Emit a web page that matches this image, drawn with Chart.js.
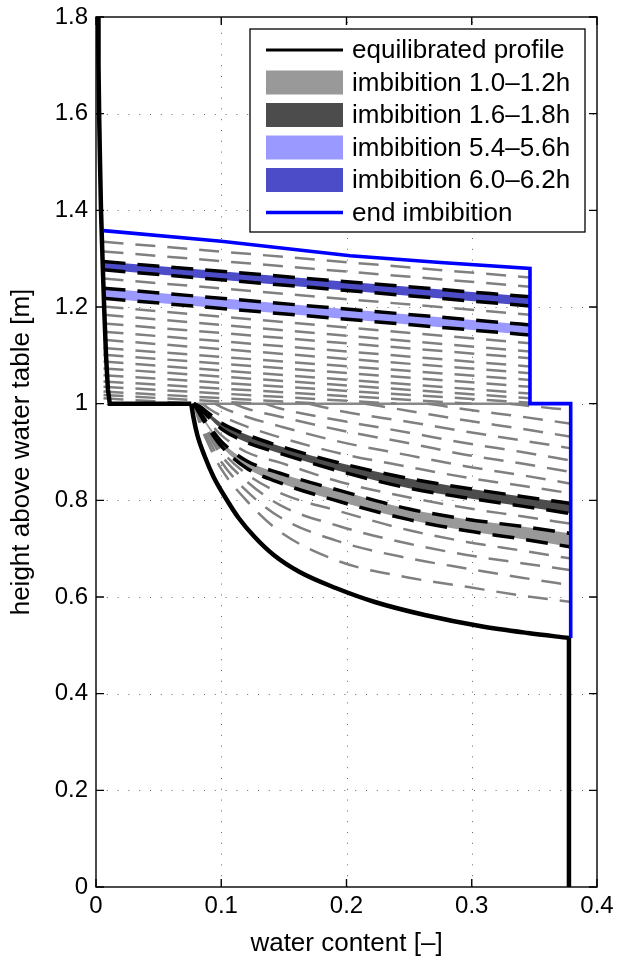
<!DOCTYPE html>
<html>
<head>
<meta charset="utf-8">
<script src="https://cdn.jsdelivr.net/npm/chart.js@4.4.1/dist/chart.umd.min.js"></script>
<style>
html,body{margin:0;padding:0;background:#fff;}
canvas{display:block;}
</style>
</head>
<body>
<canvas id="c" width="617" height="961"></canvas>
<script>
// ---------------- DATA ----------------
const xTickValues = [0, 0.1, 0.2, 0.3, 0.4];
const xTickLabels = ['0', '0.1', '0.2', '0.3', '0.4'];
const yTickValues = [0, 0.2, 0.4, 0.6, 0.8, 1.0, 1.2, 1.4, 1.6, 1.8];
const yTickLabels = ['0', '0.2', '0.4', '0.6', '0.8', '1', '1.2', '1.4', '1.6', '1.8'];
const xTitle = 'water content [–]';
const yTitle = 'height above water table [m]';
const legendLabels = ['equilibrated profile', 'imbibition 1.0–1.2h', 'imbibition 1.6–1.8h',
                      'imbibition 5.4–5.6h', 'imbibition 6.0–6.2h', 'end imbibition'];

// equilibrated profile (t = 0): upper layer + interface, lower-layer curve, bottom
const eqUpperX = [0.0016, 0.002, 0.0025, 0.0032, 0.004, 0.0052, 0.0065, 0.008, 0.0095, 0.011, 0.076];
const eqUpperY = [1.8, 1.7, 1.6, 1.5, 1.4, 1.3, 1.2, 1.1, 1.03, 1.0, 1.0];
const eqCurveX = [0.076, 0.0779, 0.0811, 0.0867, 0.0939, 0.1035, 0.1139, 0.1267, 0.1419, 0.1626, 0.1914, 0.2226, 0.2625, 0.3064, 0.3448, 0.3776];
const eqCurveY = [1.0, 0.9703, 0.9331, 0.8917, 0.8483, 0.8048, 0.7634, 0.7241, 0.6869, 0.6517, 0.6186, 0.5897, 0.5628, 0.5400, 0.5255, 0.5152];
const eqBottomX = [0.3776, 0.3776];
const eqBottomY = [0.5152, 0];

// end of imbibition
const endX = [0.006, 0.1, 0.203, 0.275, 0.3465, 0.3465, 0.379, 0.379];
const endY = [1.358, 1.336, 1.306, 1.292, 1.280, 1.0, 1.0, 0.5152];

// lower-layer profiles (every 0.2 h)
const lowerTimes = [0.2, 0.4, 0.6, 0.8, 1.0, 1.2, 1.4, 1.6, 1.8, 2.0, 2.2, 2.4, 2.6, 2.8, 3.0, 3.2, 3.4];
const lowerStartX = [0.078, 0.078, 0.078, 0.078, 0.078, 0.078, 0.078, 0.078, 0.078, 0.085, 0.095, 0.11, 0.135, 0.17, 0.215, 0.265, 0.33];
const lowerGridX = [0.078, 0.083, 0.09, 0.10, 0.12, 0.147, 0.195, 0.25, 0.296, 0.34, 0.378];
const lowerH = [
  [null, 0.958, 0.915, 0.865, 0.800, 0.735, 0.673, 0.640, 0.621, 0.603, 0.590],
  [null, 0.965, 0.925, 0.880, 0.820, 0.765, 0.714, 0.680, 0.659, 0.640, 0.625],
  [null, 0.970, 0.935, 0.893, 0.840, 0.790, 0.746, 0.710, 0.687, 0.670, 0.656],
  [null, 0.975, 0.942, 0.903, 0.855, 0.815, 0.777, 0.738, 0.714, 0.696, 0.680],
  [null, 0.978, 0.948, 0.912, 0.867, 0.836, 0.797, 0.760, 0.737, 0.720, 0.704],
  [null, 0.982, 0.955, 0.922, 0.882, 0.856, 0.820, 0.782, 0.761, 0.746, 0.732],
  [null, 0.986, 0.963, 0.935, 0.900, 0.878, 0.838, 0.806, 0.784, 0.767, 0.752],
  [null, 0.990, 0.972, 0.948, 0.920, 0.897, 0.860, 0.825, 0.805, 0.788, 0.773],
  [null, 0.994, 0.980, 0.960, 0.936, 0.912, 0.877, 0.845, 0.825, 0.808, 0.794],
  [null, null, 0.990, 0.975, 0.953, 0.930, 0.897, 0.869, 0.847, 0.830, 0.815],
  [null, null, null, 0.993, 0.973, 0.953, 0.921, 0.893, 0.870, 0.852, 0.835],
  [null, null, null, null, 0.990, 0.973, 0.945, 0.918, 0.894, 0.876, 0.859],
  [null, null, null, null, null, 0.990, 0.965, 0.940, 0.918, 0.900, 0.883],
  [null, null, null, null, null, null, 0.985, 0.962, 0.942, 0.924, 0.908],
  [null, null, null, null, null, null, null, 0.985, 0.965, 0.948, 0.932],
  [null, null, null, null, null, null, null, null, 0.988, 0.973, 0.959],
  [null, null, null, null, null, null, null, null, null, 0.997, 0.987]
];

// upper-layer profiles (every 0.2 h)
const upperTimes = [6.6, 6.4, 6.2, 6.0, 5.8, 5.6, 5.4, 5.2, 5.0, 4.8, 4.6, 4.4, 4.2, 4.0, 3.8, 3.6, 3.4, 3.2, 3.0, 2.8, 2.6, 2.4];
const upperStartX = 0.006;
const upperLeftH = [1.335, 1.315, 1.294, 1.277, 1.259, 1.239, 1.218, 1.201, 1.184, 1.166, 1.149, 1.132, 1.115, 1.101, 1.087, 1.073, 1.059, 1.046, 1.035, 1.025, 1.018, 1.011];
const upperRightX = [0.3465, 0.3465, 0.3465, 0.3465, 0.3465, 0.3465, 0.3465, 0.3465, 0.3465, 0.3465, 0.3465, 0.3465, 0.3465, 0.3465, 0.3465, 0.3465, 0.3465, 0.30, 0.24, 0.18, 0.13, 0.08];
const upperRightH = [1.261, 1.242, 1.221, 1.202, 1.184, 1.163, 1.142, 1.125, 1.108, 1.094, 1.077, 1.063, 1.049, 1.035, 1.021, 1.011, 1.002, 1.0, 1.0, 1.0, 1.0, 1.0];

// layer interface trace
const interfaceX = [0.078, 0.3465];
const interfaceY = [1.0, 1.0];

// highlighted time windows [from, to]
const bandWindows = [[1.0, 1.2], [1.6, 1.8], [5.4, 5.6], [6.0, 6.2]];
const bandColors = ['#999999', '#4c4c4c', '#9999ff', '#4c4cc8'];

// ---------------- BUILD ----------------
const FONT = '"Liberation Sans", Arial, Helvetica, sans-serif';
Chart.defaults.font.family = FONT;
Chart.defaults.color = '#000';

const pts = (xs, ys) => xs.map((x, i) => ({x: x, y: ys[i]}));
function lowerPoints(k) {
  const p = [{x: lowerStartX[k], y: 1.0}];
  lowerGridX.forEach((x, i) => {
    const h = lowerH[k][i];
    if (h !== null && x > lowerStartX[k]) p.push({x: x, y: h});
  });
  return p;
}
function upperPoints(k) {
  return [{x: upperStartX, y: upperLeftH[k]}, {x: upperRightX[k], y: upperRightH[k]}];
}
const near = (a, b) => Math.abs(a - b) < 1e-6;
const bandTimes = bandWindows.flat();
const isBand = t => bandTimes.some(b => near(b, t));

const datasets = [];
const GREY = '#808080';
const greyStyle = {borderColor: GREY, borderWidth: 2.5, borderDash: [20, 12], order: 10};

lowerTimes.forEach((t, k) => {
  if (isBand(t)) return;
  datasets.push(Object.assign({data: lowerPoints(k), cubicInterpolationMode: 'monotone'}, greyStyle));
});
upperTimes.forEach((t, k) => {
  if (isBand(t)) return;
  datasets.push(Object.assign({data: upperPoints(k)}, greyStyle));
});
datasets.push({data: pts(interfaceX, interfaceY), borderColor: '#888888', borderWidth: 2.5, order: 10});

// bands: fill between two profiles, both edges black dashed
bandWindows.forEach((w, b) => {
  const getPts = t => {
    let k = lowerTimes.findIndex(v => near(v, t));
    if (k >= 0 && t < 2) return lowerPoints(k);
    k = upperTimes.findIndex(v => near(v, t));
    return upperPoints(k);
  };
  const idxA = datasets.length;
  datasets.push({data: getPts(w[1]), borderColor: '#000', borderWidth: 3.5, borderDash: [22, 12],
                 cubicInterpolationMode: 'monotone', order: 5});
  datasets.push({data: getPts(w[0]), borderColor: '#000', borderWidth: 3.5, borderDash: [22, 12],
                 cubicInterpolationMode: 'monotone', order: 5,
                 fill: {target: idxA}, backgroundColor: bandColors[b]});
});

datasets.push({data: pts(endX, endY), borderColor: '#0000ff', borderWidth: 3.6, order: 2});
datasets.push({data: pts(eqUpperX, eqUpperY), borderColor: '#000', borderWidth: 4.5, order: 1});
datasets.push({data: pts(eqCurveX, eqCurveY), borderColor: '#000', borderWidth: 4.5, order: 1, cubicInterpolationMode: 'monotone'});
datasets.push({data: pts(eqBottomX, eqBottomY), borderColor: '#000', borderWidth: 4.5, order: 1});

datasets.forEach(d => { d.pointRadius = 0; d.pointHoverRadius = 0; if (d.fill === undefined) d.fill = false; });

// grid, frame, inward ticks and legend
const framePlugin = {
  id: 'frame',
  beforeDatasetsDraw(chart) {
    const {ctx, chartArea: a, scales: {x, y}} = chart;
    ctx.save();
    ctx.strokeStyle = 'rgba(0,0,0,0.6)';
    ctx.lineWidth = 1;
    ctx.setLineDash([1, 9.8]);
    ctx.beginPath();
    xTickValues.slice(1, -1).forEach(v => { const p = Math.round(x.getPixelForValue(v)) + 0.5; ctx.moveTo(p, a.bottom); ctx.lineTo(p, a.top); });
    yTickValues.slice(1, -1).forEach(v => { const p = Math.round(y.getPixelForValue(v)) + 0.5; ctx.moveTo(a.left, p); ctx.lineTo(a.right, p); });
    ctx.stroke();
    ctx.restore();
  },
  afterDatasetsDraw(chart) {
    const {ctx, chartArea: a, scales: {x, y}} = chart;
    ctx.save();
    ctx.setLineDash([]);
    ctx.strokeStyle = '#000';
    ctx.lineWidth = 1.4;
    ctx.strokeRect(a.left, a.top, a.right - a.left, a.bottom - a.top);
    const tl = 8;
    ctx.beginPath();
    xTickValues.forEach(v => { const p = x.getPixelForValue(v); ctx.moveTo(p, a.bottom); ctx.lineTo(p, a.bottom - tl); ctx.moveTo(p, a.top); ctx.lineTo(p, a.top + tl); });
    yTickValues.forEach(v => { const p = y.getPixelForValue(v); ctx.moveTo(a.left, p); ctx.lineTo(a.left + tl, p); ctx.moveTo(a.right, p); ctx.lineTo(a.right - tl, p); });
    ctx.stroke();

    // legend
    const bx = a.right - 347, by = a.top + 12, bw = 335, bh = 203;
    ctx.fillStyle = '#fff';
    ctx.fillRect(bx, by, bw, bh);
    ctx.lineWidth = 1.3;
    ctx.strokeRect(bx, by, bw, bh);
    const rowY = [21, 53.5, 86, 118.5, 151, 183.5];
    const sx0 = bx + 16, sx1 = bx + 93;
    legendLabels.forEach((lab, i) => {
      const cy = by + rowY[i];
      if (i === 0 || i === 5) {
        ctx.beginPath();
        ctx.strokeStyle = i === 0 ? '#000' : '#0000ff';
        ctx.lineWidth = i === 0 ? 3 : 3.5;
        ctx.moveTo(sx0, cy); ctx.lineTo(sx1, cy); ctx.stroke();
      } else {
        ctx.fillStyle = bandColors[i - 1];
        ctx.fillRect(sx0, cy - 12, sx1 - sx0, 24);
      }
      ctx.fillStyle = '#000';
      ctx.font = '26px ' + FONT;
      ctx.textBaseline = 'middle';
      ctx.textAlign = 'left';
      ctx.fillText(lab, bx + 102, cy + 1);
    });
    ctx.restore();
  }
};

new Chart(document.getElementById('c'), {
  type: 'line',
  data: {datasets: datasets},
  plugins: [framePlugin],
  options: {
    responsive: false,
    animation: false,
    events: [],
    layout: {padding: {top: 17, right: 20, bottom: 0, left: 0}},
    plugins: {legend: {display: false}, tooltip: {enabled: false}, filler: {propagate: false}},
    elements: {line: {tension: 0}},
    scales: {
      x: {
        type: 'linear', min: 0, max: 0.4,
        grid: {display: false, drawTicks: false},
        border: {display: false},
        afterBuildTicks: s => { s.ticks = xTickValues.map(v => ({value: v})); },
        afterFit: s => { s.height = 74; s.paddingLeft = 0; s.paddingRight = 0; },
        ticks: {callback: (v, i) => xTickLabels[i], autoSkip: false, maxRotation: 0, padding: 5, font: {size: 24}},
        title: {display: true, text: xTitle, font: {size: 26}, padding: {top: 0, bottom: 2}}
      },
      y: {
        type: 'linear', min: 0, max: 1.8,
        grid: {display: false, drawTicks: false},
        border: {display: false},
        afterBuildTicks: s => { s.ticks = yTickValues.map(v => ({value: v})); },
        afterFit: s => { s.width = 96; s.paddingTop = 0; s.paddingBottom = 0; },
        ticks: {callback: (v, i) => yTickLabels[i], autoSkip: false, padding: 8, font: {size: 24}},
        title: {display: true, text: yTitle, font: {size: 26}, padding: {top: 6, bottom: 0}}
      }
    }
  }
});
</script>
</body>
</html>
